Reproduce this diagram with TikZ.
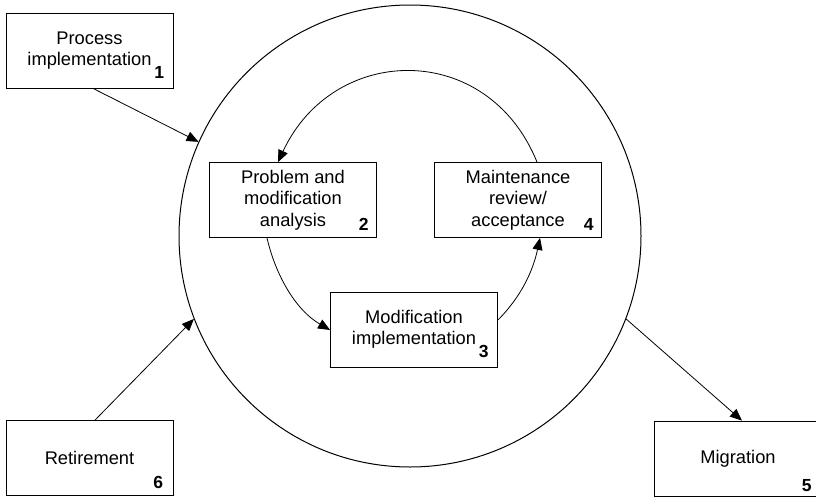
\documentclass[tikz,border=0pt]{standalone}
\usepackage{fontspec}
\setmainfont{Liberation Sans}
\usetikzlibrary{arrows.meta}
\begin{document}
\begin{tikzpicture}[x=1pt,y=1pt,
  box/.style={draw, line width=0.8pt, minimum width=167pt, minimum height=75pt,
    align=center, inner sep=0pt, font=\fontsize{18.3}{21.5}\selectfont},
  num/.style={inner sep=0pt, font=\fontsize{17.5}{20}\selectfont\bfseries},
  arr/.style={line width=0.8pt, -{Triangle[length=12pt,width=10pt]}},
  ring/.style={circle, draw, line width=1pt, minimum size=462pt, inner sep=0pt}]
\useasboundingbox (0,0) rectangle (816,-498);
\fill[white] (0,0) rectangle (816,-498);
\node[ring] (C) at (410,-236) {};
\node[box] (b1) at (89.5,-50.5) {Process\\implementation};
\node[box] (b2) at (293,-200) {Problem and\\modification\\analysis};
\node[box] (b3) at (414,-329.5) {Modification\\implementation};
\node[box] (b4) at (518,-200) {Maintenance\\review/\\acceptance};
\node[box] (b5) at (738,-458.5) {Migration};
\node[box] (b6) at (89.5,-458) {Retirement};
\node[num, anchor=base east] (n1) at ([xshift=-9pt,yshift=10pt]b1.south east) {1};
\node[num, anchor=base east] (n2) at ([xshift=-8pt,yshift=7pt]b2.south east) {2};
\node[num, anchor=base east] (n3) at ([xshift=-9pt,yshift=10pt]b3.south east) {3};
\node[num, anchor=base east] (n4) at ([xshift=-8pt,yshift=7pt]b4.south east) {4};
\node[num, anchor=base east] (n5) at ([xshift=-10pt,yshift=5pt]b5.south east) {5};
\node[num, anchor=base east] (n6) at ([xshift=-10pt,yshift=7pt]b6.south east) {6};
% outer connectors
\draw[arr] ([xshift=3.5pt]b1.south) -- (C.156);
\draw[arr] ([xshift=5.5pt]b6.north) -- (C.201.3);
\draw[arr] (C.-21) -- ([xshift=4pt]b5.north);
% inner cycle
\draw[arr] ([xshift=19pt]b4.north) to[out=112,in=65,looseness=1.3] ([xshift=-15pt]b2.north);
\draw[arr] ([xshift=-26pt]b2.south) to[out=283,in=150,looseness=0.9] ([yshift=-0.5pt]b3.west);
\draw[arr] ([yshift=9.5pt]b3.east) to[out=45,in=258,looseness=0.92] ([xshift=22pt]b4.south);
\end{tikzpicture}
\end{document}
